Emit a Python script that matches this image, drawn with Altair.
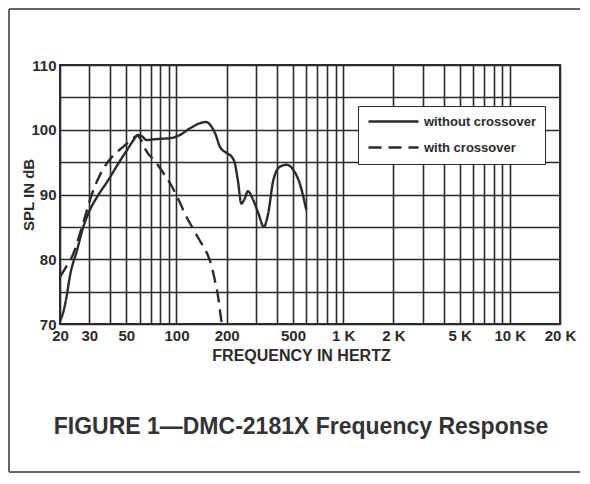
import altair as alt
import pandas as pd

# ---- data ----
solid_freq = [20.0, 21.0, 21.9, 22.9, 25.3, 27.6, 30.2, 33.9, 38.9, 44.8, 50.6, 56.3, 58.5, 62, 66.4, 72, 80,
              91.5, 105, 120, 138, 150, 162, 172, 182, 200, 215, 224, 234, 245, 256, 268, 288, 310, 334, 355,
              381, 418, 458, 502, 549, 601]
solid_db = [70.4, 72.0, 74.2, 77.3, 81.4, 85.0, 87.6, 89.9, 92.2, 94.8, 96.9, 98.7, 99.2, 99.0, 98.4, 98.5, 98.6,
            98.7, 99.2, 100.2, 101.0, 101.2, 100.5, 99.2, 97.4, 96.4, 95.8, 94.8, 92.0, 88.6, 89.3, 90.5, 89.2,
            87.1, 85.0, 87.1, 92.2, 94.3, 94.6, 93.8, 91.7, 87.6]

dash_freq = [20, 22, 24, 26, 28, 31, 34, 37, 42, 48, 54, 58, 62, 65, 75, 85, 94, 103, 112, 129, 140, 152,
             163, 170, 177, 182, 187]
dash_db = [77.3, 79.0, 80.8, 83.5, 86.2, 90.0, 92.5, 94.3, 96.1, 97.4, 98.5, 99.1, 98.2, 97.0, 95.0, 93.0,
           91.2, 89.2, 87.1, 84.2, 82.6, 81.0, 78.8, 76.7, 74.5, 72.2, 70.0]

series_names = ["without crossover", "with crossover"]

grid_freqs = [20, 30, 40, 50, 60, 70, 80, 90,
              100, 200, 300, 400, 500, 600, 700, 800, 900,
              1000, 2000, 3000, 4000, 5000, 6000, 7000, 8000, 9000,
              10000, 20000]
label_freqs = [20, 30, 50, 100, 200, 500, 1000, 2000, 5000, 10000, 20000]
label_texts = ["20", "30", "50", "100", "200", "500", "1 K", "2 K", "5 K", "10 K", "20 K"]

y_grid = [70, 75, 80, 85, 90, 95, 100, 105, 110]
y_labels = [70, 80, 90, 100, 110]

title_text = "FIGURE 1\u2014DMC-2181X Frequency Response"
x_title = "FREQUENCY IN HERTZ"
y_title = "SPL IN dB"

# ---- build ----
df = pd.DataFrame({
    "freq": solid_freq + dash_freq,
    "spl": solid_db + dash_db,
    "series": [series_names[0]] * len(solid_freq) + [series_names[1]] * len(dash_freq),
})

x_label_expr = "".join(f"datum.value == {v} ? '{t}' : " for v, t in zip(label_freqs, label_texts)) + "''"
y_label_expr = "".join(f"datum.value == {v} ? '{v}' : " for v in y_labels) + "''"

FONT = "Liberation Sans"
INK = "#2b2b2b"

lines = alt.Chart(df).mark_line(interpolate="monotone", strokeWidth=2.4, color=INK, clip=True).encode(
    x=alt.X("freq:Q",
            scale=alt.Scale(type="log", domain=[20, 20000], nice=False),
            axis=alt.Axis(values=grid_freqs, labelExpr=x_label_expr, title=x_title,
                          labelFontSize=15, labelPadding=4, titleFontSize=16,
                          titleX=241, titleY=36, titleBaseline="alphabetic",
                          labelOverlap=False, labelFlush=False)),
    y=alt.Y("spl:Q",
            scale=alt.Scale(domain=[70, 110], nice=False, zero=False),
            axis=alt.Axis(values=y_grid, labelExpr=y_label_expr, title=y_title,
                          labelFontSize=15, labelPadding=4, titleFontSize=15,
                          titleX=-27, titleBaseline="alphabetic", labelOverlap=False)),
    strokeDash=alt.StrokeDash("series:N",
                              scale=alt.Scale(domain=series_names, range=[[1, 0], [13, 7]]),
                              sort=series_names,
                              legend=alt.Legend(title=None, orient="none", legendX=298, legendY=41,
                                                fillColor="white", strokeColor=INK, padding=9,
                                                symbolType="M-1,0H9", symbolSize=100,
                                                symbolStrokeWidth=2.4, symbolStrokeColor=INK,
                                                symbolFillColor="transparent",
                                                labelOffset=44,
                                                labelFont=FONT, labelFontSize=13, labelFontWeight="bold",
                                                labelColor=INK, rowPadding=12, labelLimit=300)),
)

frame_src = pd.DataFrame({"k": [0]})
frame_left = alt.Chart(frame_src).mark_rule(color="#666", strokeWidth=2).encode(
    x=alt.value(-51), y=alt.value(-56), y2=alt.value(407))
frame_top = alt.Chart(frame_src).mark_rule(color="#666", strokeWidth=2).encode(
    x=alt.value(-51), x2=alt.value(520), y=alt.value(-56))
frame_bottom = alt.Chart(frame_src).mark_rule(color="#666", strokeWidth=2).encode(
    x=alt.value(-51), x2=alt.value(520), y=alt.value(407))

chart = alt.layer(lines, frame_left, frame_top, frame_bottom).properties(
    width=500, height=259,
    autosize=alt.AutoSizeParams(type="none"),
    padding={"left": 52, "top": 57, "right": 20, "bottom": 150},
    background="white",
    title=alt.Title(title_text, orient="bottom", anchor="middle", fontSize=23, font=FONT,
                    fontWeight="bold", color="#333", offset=-57, dx=-9),
).configure_view(stroke=INK, strokeWidth=2).configure_axis(
    grid=True, gridColor=INK, gridWidth=1.6, gridOpacity=1, domain=False, ticks=False,
    labelFont=FONT, labelFontWeight="bold", labelColor=INK,
    titleFont=FONT, titleFontWeight="bold", titleColor=INK,
)

chart.save("out.html", embed_options={"renderer": "svg", "actions": False})
